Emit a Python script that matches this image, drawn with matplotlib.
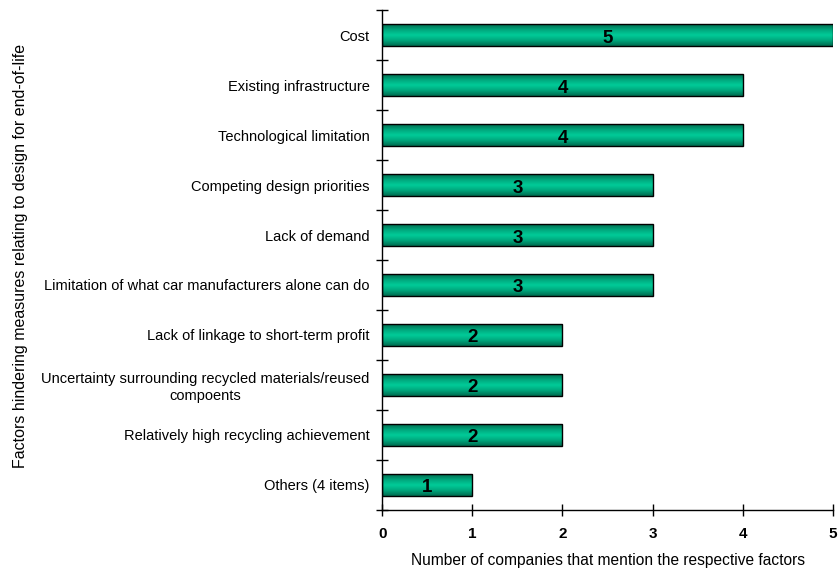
import numpy as np
import matplotlib.pyplot as plt
from matplotlib.colors import LinearSegmentedColormap

plt.rcParams['font.family'] = ['Liberation Sans', 'DejaVu Sans']

factors = [
    "Cost",
    "Existing infrastructure",
    "Technological limitation",
    "Competing design priorities",
    "Lack of demand",
    "Limitation of what car manufacturers alone can do",
    "Lack of linkage to short-term profit",
    "Uncertainty surrounding recycled materials/reused\ncompoents",
    "Relatively high recycling achievement",
    "Others (4 items)",
]
counts = [5, 4, 4, 3, 3, 3, 2, 2, 2, 1]

fig = plt.figure(figsize=(8.38, 5.73), dpi=100)
ax = fig.add_axes([0.456, 0.110, 0.538, 0.8725])

# cylinder-style shading: dark at top and bottom, bright in the middle
shade = LinearSegmentedColormap.from_list(
    "shade", ["#006b4f", "#00a67c", "#00cc99", "#00a67c", "#006b4f"])
grad = np.linspace(0, 1, 64).reshape(-1, 1)

h = 0.44
ypos = np.arange(len(factors))
for y, v in zip(ypos, counts):
    ax.imshow(grad, cmap=shade, aspect='auto', interpolation='bilinear',
              extent=(0, v, y - h / 2, y + h / 2), zorder=2)
    ax.barh(y, v, height=h, facecolor='none', edgecolor='black',
            linewidth=1.0, zorder=3)
    ax.text(v / 2, y + 0.06, str(v), ha='center', va='center',
            fontsize=13.5, fontweight='bold', zorder=4)

ax.set_xlim(0, 5)
ax.set_ylim(len(factors) - 0.5, -0.5)
ax.set_xticks(range(6))
ax.set_xticklabels([str(i) for i in range(6)], fontsize=11, fontweight='bold')
ax.set_yticks(np.arange(-0.5, len(factors), 1.0))
ax.set_yticklabels([])
ax.set_yticks(ypos, minor=True)
ax.set_yticklabels(factors, minor=True, fontsize=10.5, ha='right',
                   multialignment='center')
ax.tick_params(axis='y', which='minor', length=0, pad=9)
ax.tick_params(axis='y', which='major', direction='inout', length=8, width=1)
ax.tick_params(axis='x', direction='inout', length=8, width=1, pad=8)

for s in ['top', 'right']:
    ax.spines[s].set_visible(False)
for s in ['left', 'bottom']:
    ax.spines[s].set_linewidth(1.0)

ax.set_xlabel("Number of companies that mention the respective factors",
              fontsize=11.2, labelpad=9)
fig.text(0.024, 0.553, "Factors hindering measures relating to design for end-of-life",
         rotation=90, ha='center', va='center', fontsize=11.5)

fig.savefig("out.png", dpi=100)
